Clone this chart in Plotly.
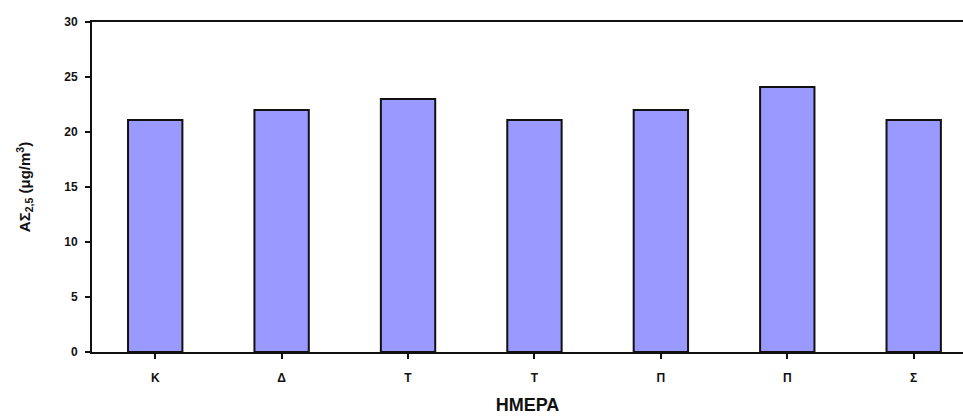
import plotly.graph_objects as go

# Days of the week (Greek initials) and daily mean concentration
days = ["Κ", "Δ", "Τ", "Τ", "Π", "Π", "Σ"]
concentration = [21.1, 22.0, 23.0, 21.1, 22.0, 24.1, 21.1]
y_ticks = [0, 5, 10, 15, 20, 25, 30]

font_family = "Liberation Sans, Arial, sans-serif"

fig = go.Figure(
    go.Bar(
        x=list(range(len(days))),
        y=concentration,
        width=0.43,
        marker=dict(color="#9999FF", line=dict(color="#111111", width=2)),
        hoverinfo="skip",
    )
)

fig.update_layout(
    width=963,
    height=416,
    margin=dict(l=92, r=0, t=22, b=64),
    paper_bgcolor="white",
    plot_bgcolor="white",
    showlegend=False,
    font=dict(family=font_family, color="#111111"),
    xaxis=dict(
        tickmode="array",
        tickvals=list(range(len(days))),
        ticktext=[f"<b>{d}</b>" for d in days],
        range=[-0.5, 6.39],
        showgrid=False,
        zeroline=False,
        showline=True,
        linecolor="#111111",
        linewidth=2,
        mirror=True,
        ticks="outside",
        ticklen=5,
        tickwidth=2,
        tickcolor="#111111",
        tickfont=dict(size=12, family=font_family),
        ticklabelstandoff=9,
        title=dict(text="<b>ΗΜΕΡΑ</b>", font=dict(size=18, family=font_family), standoff=14),
    ),
    yaxis=dict(
        range=[0, 30],
        tickvals=y_ticks,
        ticktext=[f"<b>{v}</b>" for v in y_ticks],
        showgrid=False,
        zeroline=False,
        showline=True,
        linecolor="#111111",
        linewidth=2,
        ticks="outside",
        ticklen=5,
        tickwidth=2,
        tickcolor="#111111",
        tickfont=dict(size=12, family=font_family),
        ticklabelstandoff=5,
        title=dict(
            text="<b>ΑΣ<sub>2,5</sub> (μg/m<sup>3</sup>)</b>",
            font=dict(size=15, family=font_family),
            standoff=30,
        ),
    ),
)

# Place category ticks on the boundaries between days
fig.update_xaxes(tickson="boundaries")

fig.write_html("out.html")
